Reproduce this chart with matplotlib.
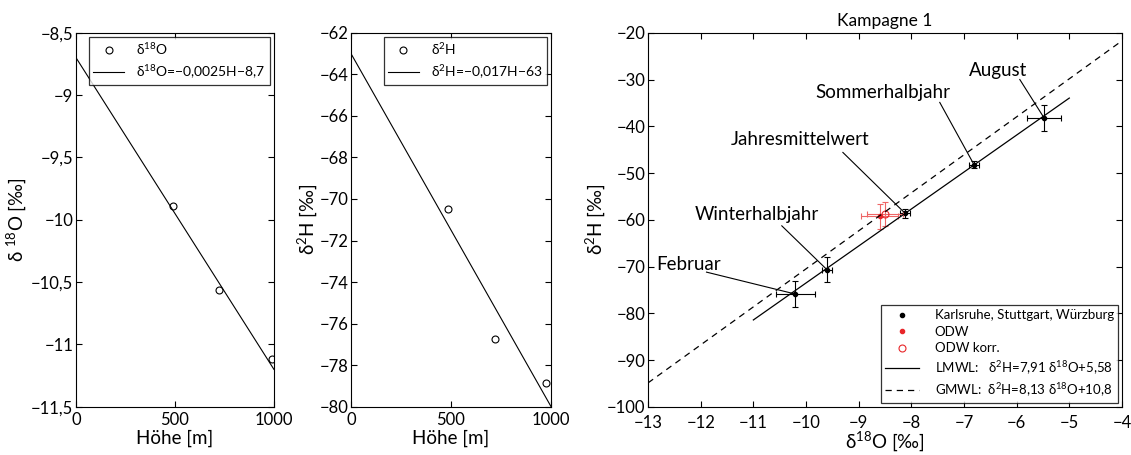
import numpy as np
import matplotlib
matplotlib.use("Agg")
from matplotlib import pyplot as plt
from matplotlib.ticker import FuncFormatter

plt.rcParams['font.family'] = ['Lato', 'DejaVu Sans']
plt.rcParams['mathtext.fontset'] = 'custom'
plt.rcParams['mathtext.rm'] = 'Lato'
plt.rcParams['mathtext.default'] = 'regular'
plt.rcParams['axes.unicode_minus'] = True

# Panel 1/2: height gradient
hoehe = [490, 724, 988]
d18o = [-9.89, -10.56, -11.12]
hoehe_h = [487, 718, 975]
d2h = [-70.5, -76.73, -78.84]
fit_o = (-0.0025, -8.7)
fit_h = (-0.017, -63)

# Panel 3: Kampagne 1
stations = ['Februar', 'Winterhalbjahr', 'Jahresmittelwert', 'Sommerhalbjahr', 'August']
st_x = [-10.2, -9.6, -8.12, -6.81, -5.48]
st_y = [-75.9, -70.7, -58.6, -48.2, -38.2]
st_xerr = [0.37, 0.1, 0.1, 0.1, 0.32]
st_yerr = [2.85, 2.7, 1.0, 0.8, 2.8]
label_xy = [(-12.24, -69.5), (-10.94, -58.8), (-10.12, -42.8), (-8.54, -32.8), (-6.36, -28.1)]
line_start = [(-11.89, -71.2), (-10.46, -61.3), (-9.3, -45.6), (-7.46, -34.9), (-5.94, -30.0)]

odw_x, odw_y = -8.6, -59.3
odwk_x, odwk_y = -8.5, -58.7
odw_xerr, odw_yerr = 0.35, 2.6

lmwl = (7.91, 5.58)
lmwl_range = (-11, -5)
gmwl = (8.13, 10.8)
gmwl_range = (-13, -4)


def comma(v, pos):
    s = ('%g' % v).replace('.', ',')
    return s.replace('-', '\u2212')


fig = plt.figure(figsize=(11.31, 4.55), dpi=100)
ax1 = fig.add_axes([0.0672, 0.106, 0.175, 0.822])
ax2 = fig.add_axes([0.3103, 0.106, 0.177, 0.822])
ax3 = fig.add_axes([0.573, 0.106, 0.419, 0.822])

fs_tick = 12
fs_lab = 13.5
for ax in (ax1, ax2, ax3):
    ax.tick_params(direction='in', top=True, right=True, labelsize=fs_tick, length=4, pad=2)
    ax.tick_params(axis='x', pad=4)
    ax.yaxis.set_major_formatter(FuncFormatter(comma))
    ax.xaxis.set_major_formatter(FuncFormatter(comma))
ax3.tick_params(axis='x', pad=6)

# panel 1
hh = np.array([0, 1000])
ax1.plot(hoehe, d18o, 'o', mfc='none', mec='k', ms=5, mew=0.8, label=r'δ$^{18}$O')
ax1.plot(hh, fit_o[0] * hh + fit_o[1], 'k-', lw=0.8, label=r'δ$^{18}$O=−0,0025H−8,7')
ax1.set_xlim(0, 1000)
ax1.set_ylim(-11.5, -8.5)
ax1.set_xticks([0, 500, 1000])
ax1.set_yticks(np.arange(-11.5, -8.4, 0.5))
ax1.set_xlabel('Höhe [m]', fontsize=fs_lab, labelpad=1)
ax1.set_ylabel(r'δ $^{18}$O [‰]', fontsize=fs_lab, labelpad=2)
leg = ax1.legend(loc='upper right', fontsize=10, fancybox=False, edgecolor='k',
                 borderaxespad=0.3, handlelength=2.2, labelspacing=0.45, borderpad=0.3,
                 handletextpad=0.9)
leg.get_frame().set_linewidth(0.9)

# panel 2
ax2.plot(hoehe_h, d2h, 'o', mfc='none', mec='k', ms=5, mew=0.8, label=r'δ$^{2}$H')
ax2.plot(hh, fit_h[0] * hh + fit_h[1], 'k-', lw=0.8, label=r'δ$^{2}$H=−0,017H−63')
ax2.set_xlim(0, 1000)
ax2.set_ylim(-80, -62)
ax2.set_xticks([0, 500, 1000])
ax2.set_yticks(np.arange(-80, -61, 2))
ax2.set_xlabel('Höhe [m]', fontsize=fs_lab, labelpad=1)
ax2.set_ylabel(r'δ$^{2}$H [‰]', fontsize=fs_lab, labelpad=0)
leg = ax2.legend(loc='upper right', fontsize=10, fancybox=False, edgecolor='k',
                 borderaxespad=0.3, handlelength=2.2, labelspacing=0.45, borderpad=0.3,
                 handletextpad=0.9)
leg.get_frame().set_linewidth(0.9)

# panel 3
ax3.errorbar(st_x, st_y, xerr=st_xerr, yerr=st_yerr, fmt='none', ecolor='k',
             elinewidth=0.8, capsize=2.5, capthick=0.8)
ax3.plot(st_x, st_y, 'k.', ms=6, label='Karlsruhe, Stuttgart, Würzburg')
ax3.errorbar([odw_x, odwk_x], [odw_y, odwk_y], xerr=odw_xerr, yerr=odw_yerr,
             fmt='none', ecolor='#ee6666', elinewidth=0.8, capsize=2.5, capthick=0.8)
ax3.plot(odw_x, odw_y, '.', color='#e8262a', ms=6, label='ODW')
ax3.plot(odwk_x, odwk_y, 'o', mfc='none', mec='#e8262a', ms=5, mew=0.8, label='ODW korr.')
xl = np.array(lmwl_range)
ax3.plot(xl, lmwl[0] * xl + lmwl[1], 'k-', lw=0.9,
         label=r'LMWL:   δ$^{2}$H=7,91 δ$^{18}$O+5,58')
xg = np.array(gmwl_range)
ax3.plot(xg, gmwl[0] * xg + gmwl[1], 'k--', lw=0.9, dashes=(5, 4),
         label=r'GMWL:  δ$^{2}$H=8,13 δ$^{18}$O+10,8')

for name, (tx, ty), (lx, ly), px, py in zip(stations, label_xy, line_start, st_x, st_y):
    ax3.text(tx, ty, name, ha='center', va='center', fontsize=13.5)
    ax3.plot([lx, px], [ly, py], 'k-', lw=0.8)

ax3.set_xlim(-13, -4)
ax3.set_ylim(-100, -20)
ax3.set_xticks(np.arange(-13, -3, 1))
ax3.set_yticks(np.arange(-100, -19, 10))
ax3.set_xlabel(r'δ$^{18}$O [‰]', fontsize=fs_lab, labelpad=-1)
ax3.set_ylabel(r'δ$^{2}$H [‰]', fontsize=fs_lab, labelpad=0)
ax3.set_title('Kampagne 1', fontsize=12.5, pad=5)
leg = ax3.legend(loc='lower right', fontsize=9.5, fancybox=False, edgecolor='k',
                 borderaxespad=0.3, handlelength=2.6, labelspacing=0.35, borderpad=0.3,
                 handletextpad=1.2)
leg.get_frame().set_linewidth(0.9)

fig.savefig('out.png', dpi=100)
